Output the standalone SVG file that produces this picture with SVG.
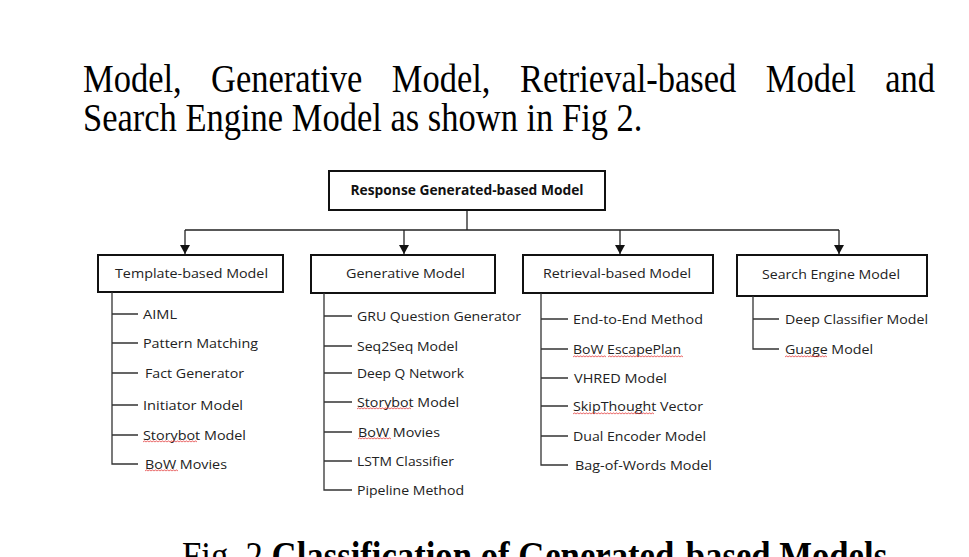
<svg xmlns="http://www.w3.org/2000/svg" width="969" height="557" viewBox="0 0 969 557">
<style>
.para{font-family:"Liberation Serif","Times New Roman",serif;font-size:34.5px;fill:#000}
.box{fill:#fff;stroke:#111;stroke-width:2}
.lbl{font-family:"Open Sans","Noto Sans",sans-serif;font-size:13.5px;fill:#222}
.bold{font-weight:bold;fill:#111}
.item{font-family:"Open Sans","Noto Sans",sans-serif;font-size:13px;fill:#222}
.conn{fill:none;stroke:#222;stroke-width:1.3}
.tree{fill:none;stroke:#333;stroke-width:1.3}
</style>
<defs>
<marker id="arr" markerUnits="userSpaceOnUse" markerWidth="9" markerHeight="10" refX="9" refY="5" orient="auto" viewBox="0 0 9 10">
<path d="M0,0 L9,5 L0,10 z" fill="#111"/>
</marker>
<pattern id="sq" width="3" height="3" patternUnits="userSpaceOnUse">
<path d="M0,2.3 L1.5,0.7 L3,2.3" fill="none" stroke="#e02828" stroke-width="0.8"/>
</pattern>
</defs>
<rect width="969" height="557" fill="#fff"/>

<g id="paragraph">
<text class="para" transform="translate(83,92) scale(1,1.14)" word-spacing="20.8">Model, Generative Model, Retrieval-based Model and</text>
<text class="para" transform="translate(83,131) scale(1,1.14)">Search Engine Model as shown in Fig 2.</text>
</g>

<g id="connectors">
<path class="conn" d="M467,210 V230 M185,230 H839"/>
<path class="conn" d="M185,230 V254" marker-end="url(#arr)"/>
<path class="conn" d="M404,230 V254" marker-end="url(#arr)"/>
<path class="conn" d="M620,230 V254" marker-end="url(#arr)"/>
<path class="conn" d="M839,230 V254" marker-end="url(#arr)"/>
</g>

<g id="root">
<rect class="box" x="329" y="171" width="276" height="39"/>
<text class="lbl bold" x="467" y="195" text-anchor="middle" textLength="233" lengthAdjust="spacingAndGlyphs">Response Generated-based Model</text>
</g>

<g id="template">
<rect class="box" x="98" y="255" width="185" height="37"/>
<text class="lbl" x="191.5" y="278" text-anchor="middle" textLength="153" lengthAdjust="spacingAndGlyphs">Template-based Model</text>
<path class="tree" d="M112,292 V464 H138 M112,314 H138 M112,343 H138 M112,373 H138 M112,405 H138 M112,435 H138"/>
<text class="item" x="143" y="318.5" textLength="34" lengthAdjust="spacingAndGlyphs">AIML</text>
<text class="item" x="143" y="347.5" textLength="115" lengthAdjust="spacingAndGlyphs">Pattern Matching</text>
<text class="item" x="145" y="377.5" textLength="99" lengthAdjust="spacingAndGlyphs">Fact Generator</text>
<text class="item" x="143" y="409.5" textLength="100" lengthAdjust="spacingAndGlyphs">Initiator  Model</text>
<text class="item" x="143" y="439.5" textLength="103" lengthAdjust="spacingAndGlyphs">Storybot Model</text>
<text class="item" x="145" y="468.5" textLength="82" lengthAdjust="spacingAndGlyphs">BoW Movies</text>
<rect transform="translate(143,440)" width="54" height="3" fill="url(#sq)"/>
<rect transform="translate(145,469)" width="33" height="3" fill="url(#sq)"/>
</g>

<g id="generative">
<rect class="box" x="311" y="255" width="184" height="38"/>
<text class="lbl" x="405.5" y="278" text-anchor="middle" textLength="119" lengthAdjust="spacingAndGlyphs">Generative Model</text>
<path class="tree" d="M324,293 V490 H352 M324,316 H352 M324,346 H352 M324,373 H352 M324,402 H352 M324,432 H352 M324,461 H352"/>
<text class="item" x="357" y="320.5" textLength="164" lengthAdjust="spacingAndGlyphs">GRU Question Generator</text>
<text class="item" x="357" y="350.5" textLength="101" lengthAdjust="spacingAndGlyphs">Seq2Seq Model</text>
<text class="item" x="357" y="377.5" textLength="107" lengthAdjust="spacingAndGlyphs">Deep Q Network</text>
<text class="item" x="357" y="406.5" textLength="102" lengthAdjust="spacingAndGlyphs">Storybot Model</text>
<text class="item" x="358" y="436.5" textLength="82" lengthAdjust="spacingAndGlyphs">BoW Movies</text>
<text class="item" x="357" y="465.5" textLength="97" lengthAdjust="spacingAndGlyphs">LSTM Classifier</text>
<text class="item" x="357" y="494.5" textLength="107" lengthAdjust="spacingAndGlyphs">Pipeline Method</text>
<rect transform="translate(357,407)" width="54" height="3" fill="url(#sq)"/>
<rect transform="translate(358,437)" width="33" height="3" fill="url(#sq)"/>
</g>

<g id="retrieval">
<rect class="box" x="523" y="255" width="190" height="38"/>
<text class="lbl" x="617" y="278" text-anchor="middle" textLength="148" lengthAdjust="spacingAndGlyphs">Retrieval-based Model</text>
<path class="tree" d="M541,293 V465 H568 M541,319 H568 M541,349 H568 M541,378 H568 M541,406 H568 M541,436 H568"/>
<text class="item" x="573" y="323.5" textLength="130" lengthAdjust="spacingAndGlyphs">End-to-End  Method</text>
<text class="item" x="573" y="353.5" textLength="108" lengthAdjust="spacingAndGlyphs">BoW EscapePlan</text>
<text class="item" x="574" y="382.5" textLength="93" lengthAdjust="spacingAndGlyphs">VHRED  Model</text>
<text class="item" x="573" y="410.5" textLength="130" lengthAdjust="spacingAndGlyphs">SkipThought  Vector</text>
<text class="item" x="573" y="440.5" textLength="133" lengthAdjust="spacingAndGlyphs">Dual  Encoder Model</text>
<text class="item" x="575" y="469.5" textLength="137" lengthAdjust="spacingAndGlyphs">Bag-of-Words Model</text>
<rect transform="translate(573,355)" width="33" height="3" fill="url(#sq)"/>
<rect transform="translate(608,355)" width="75" height="3" fill="url(#sq)"/>
<rect transform="translate(573,412)" width="81" height="3" fill="url(#sq)"/>
</g>

<g id="search">
<rect class="box" x="737" y="255" width="190" height="41"/>
<text class="lbl" x="831" y="279" text-anchor="middle" textLength="138" lengthAdjust="spacingAndGlyphs">Search Engine Model</text>
<path class="tree" d="M753,296 V349 H779 M753,319 H779"/>
<text class="item" x="785" y="323.5" textLength="143" lengthAdjust="spacingAndGlyphs">Deep Classifier Model</text>
<text class="item" x="785" y="353.5" textLength="88" lengthAdjust="spacingAndGlyphs">Guage  Model</text>
<rect transform="translate(785,355)" width="42" height="3" fill="url(#sq)"/>
</g>

<g id="caption">
<text class="para" transform="translate(182,569) scale(1,1.14)" style="font-size:34.7px">Fig. 2 <tspan font-weight="bold">Classification of Generated-based Models</tspan></text>
</g>
</svg>
